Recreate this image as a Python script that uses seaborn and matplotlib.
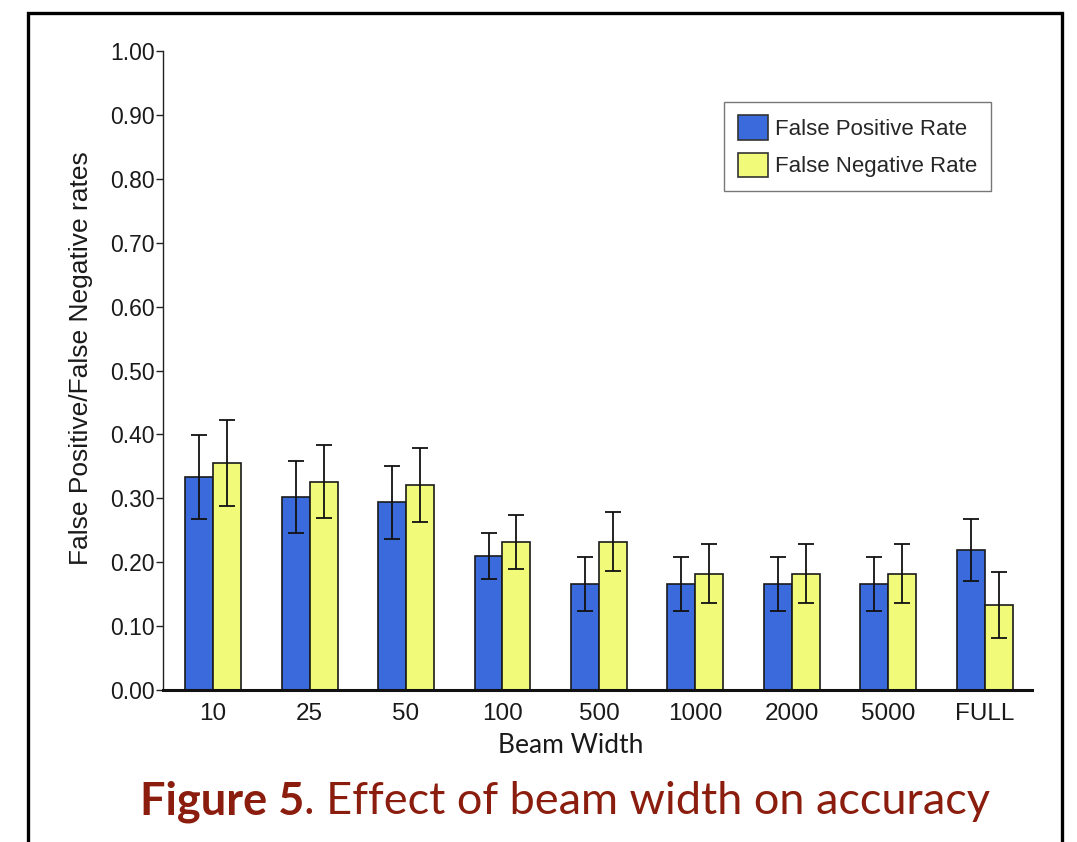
import pandas as pd
import seaborn as sns
import matplotlib.pyplot as plt
from matplotlib.patches import Rectangle

# Dados
beam_widths = ['10', '25', '50', '100', '500', '1000', '2000', '5000', 'FULL']
fp_rate = [0.333, 0.302, 0.294, 0.210, 0.166, 0.166, 0.166, 0.166, 0.219]
fp_err = [0.066, 0.057, 0.057, 0.036, 0.042, 0.042, 0.042, 0.042, 0.049]
fn_rate = [0.355, 0.326, 0.321, 0.232, 0.232, 0.182, 0.182, 0.182, 0.133]
fn_err = [0.067, 0.057, 0.058, 0.042, 0.046, 0.046, 0.046, 0.046, 0.052]
series = ['False Positive Rate', 'False Negative Rate']

df = pd.DataFrame({
    'Beam Width': beam_widths * 2,
    'Rate': fp_rate + fn_rate,
    'Err': fp_err + fn_err,
    'Series': [series[0]] * len(beam_widths) + [series[1]] * len(beam_widths),
})

sns.set_style("white")
plt.rcParams['font.family'] = ['Liberation Sans', 'DejaVu Sans']

fig = plt.figure(figsize=(10.77, 8.42), dpi=100)
ax = fig.add_axes([163 / 1077, 1 - 690 / 842, 869 / 1077, 639 / 842])

sns.barplot(data=df, x='Beam Width', y='Rate', hue='Series', order=beam_widths,
            hue_order=series, palette=['#3a6adb', '#f2fa7a'], width=0.58,
            errorbar=None, edgecolor='#1a1a1a', linewidth=1.2, saturation=1, ax=ax)

# barras de erro nas posições das barras desenhadas
for cont, s in zip(ax.containers, series):
    sub = df[df['Series'] == s].set_index('Beam Width').loc[beam_widths]
    xs = [p.get_x() + p.get_width() / 2 for p in cont.patches]
    ax.errorbar(xs, sub['Rate'], yerr=sub['Err'], fmt='none', ecolor='#111111',
                elinewidth=1.3, capsize=6, capthick=1.3, zorder=5)

ax.set_ylim(0, 1.0)
ax.set_xlim(-0.52, 8.49)
ax.set_yticks([i / 10 for i in range(11)])
ax.set_yticklabels([f'{i / 10:.2f}' for i in range(11)], fontsize=16.5, color='#1a1a1a')
ax.tick_params(axis='y', direction='out', length=5, width=1, pad=1, left=True, color='#222222')
ax.tick_params(axis='x', length=0, pad=9, labelsize=17.5, labelcolor='#1a1a1a')

for side in ['top', 'right']:
    ax.spines[side].set_visible(False)
ax.spines['left'].set_linewidth(1.0)
ax.spines['left'].set_color('#222222')
ax.spines['bottom'].set_linewidth(2.2)
ax.spines['bottom'].set_color('#111111')

ax.set_ylabel('False Positive/False Negative rates', fontsize=19, color='#1a1a1a')
ax.yaxis.set_label_coords(-0.081, 0.52)
ax.set_xlabel('Beam Width', fontsize=19, color='#1a1a1a', family=['Lato', 'DejaVu Sans'])
ax.xaxis.set_label_coords(0.469, -0.067)

leg = ax.legend(loc='upper right', bbox_to_anchor=(991 / 1077, 1 - 102 / 842),
                bbox_transform=fig.transFigure, fontsize=16, frameon=True, fancybox=False,
                edgecolor='#555555', handlelength=1.35, handleheight=1.35,
                handletextpad=0.35, borderpad=0.6, labelspacing=0.55, borderaxespad=0)
leg.get_frame().set_linewidth(1.0)
for h in leg.legend_handles:
    h.set_edgecolor('#333333')

# moldura da figura
fig.patches.append(Rectangle((28 / 1077, -0.05), (1062 - 28) / 1077, 1.05 - 13 / 842,
                             transform=fig.transFigure, fill=False, edgecolor='black',
                             linewidth=2.4))

# legenda da figura
red = '#8b1d0e'
t1 = fig.text(140 / 1077, 1 - 802 / 842, 'Figure 5', fontsize=32.5, fontweight='bold',
              color=red, va='center', ha='left', family=['Lato', 'DejaVu Sans'])
fig.canvas.draw()
bb = t1.get_window_extent()
fig.text(bb.x1 / fig.bbox.width, 1 - 802 / 842, '. Effect of beam width on accuracy',
         fontsize=32.5, color=red, va='center', ha='left', family=['Lato', 'DejaVu Sans'])

fig.savefig('out.png', dpi=100)
